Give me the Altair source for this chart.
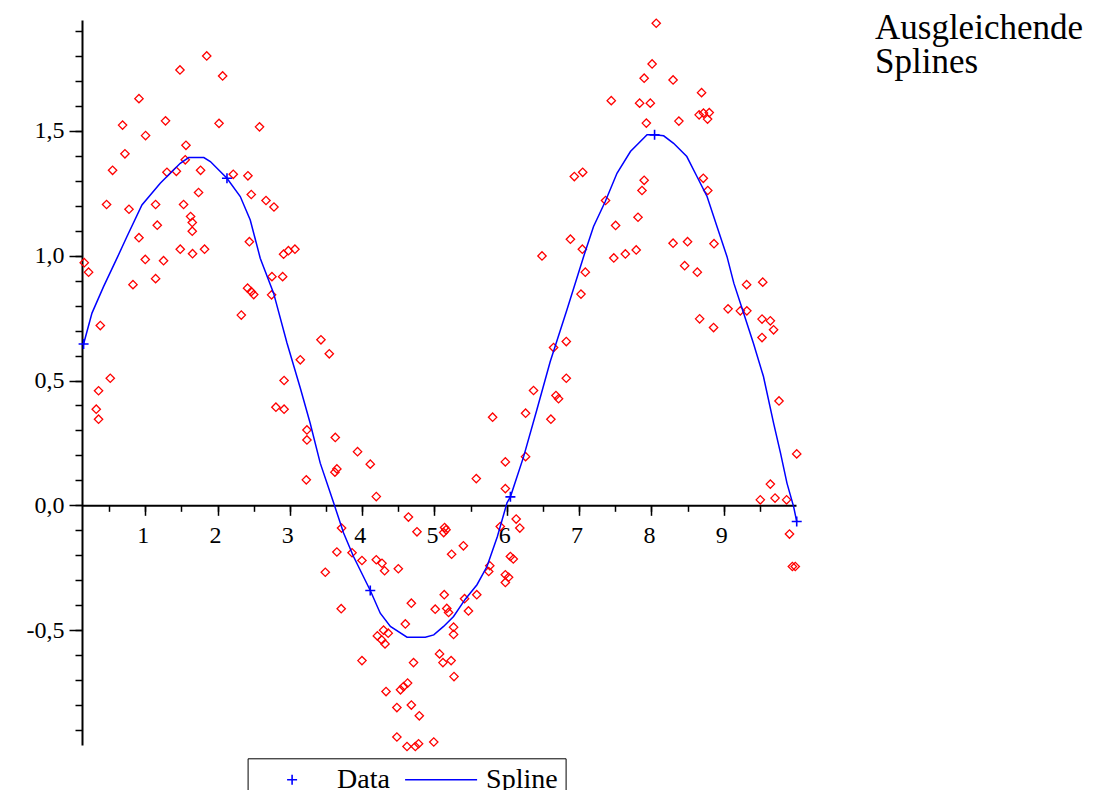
import altair as alt
import pandas as pd

# ---- scattered measurements (red diamonds) ----
scatter_x = [0.156, 0.216, 0.322, 0.354, 0.354, 0.378, 0.465, 0.516, 0.548, 0.686,
             0.719, 0.775, 0.83, 0.913, 0.913, 1.0, 1.004, 1.143, 1.143, 1.166,
             1.253, 1.28, 1.30, 1.43, 1.48, 1.484, 1.53, 1.553, 1.563, 1.627,
             1.65, 1.65, 1.654, 1.737, 1.765, 1.82, 1.85, 2.02, 2.07, 2.217,
             2.328, 2.415, 2.42, 2.44, 2.466, 2.466, 2.50, 2.58, 2.67, 2.747,
             2.752, 2.78, 2.807, 2.90, 2.913, 2.92, 2.92, 2.98, 3.07, 3.144,
             3.227, 3.236, 3.236, 3.43, 3.49, 3.545, 3.623, 3.628, 3.65, 3.65,
             3.71, 3.715, 3.86, 3.936, 3.997, 3.997, 4.112, 4.195, 4.195, 4.21,
             4.27, 4.274, 4.296, 4.31, 4.316, 4.33, 4.36, 4.48, 4.48, 4.50,
             4.53, 4.573, 4.597, 4.62, 4.628, 4.64, 4.68, 4.68, 4.71, 4.735,
             4.758, 4.78, 4.79, 4.99, 5.01, 5.07, 5.117, 5.127, 5.135, 5.14,
             5.16, 5.17, 5.195, 5.23, 5.237, 5.264, 5.264, 5.27, 5.40, 5.416,
             5.47, 5.578, 5.585, 5.75, 5.765, 5.804, 5.91, 5.98, 5.98, 5.98,
             5.98, 6.025, 6.05, 6.09, 6.13, 6.18, 6.26, 6.26, 6.37, 6.487,
             6.61, 6.647, 6.68, 6.716, 6.823, 6.823, 6.88, 6.934, 7.026, 7.045,
             7.05, 7.086, 7.366, 7.445, 7.48, 7.505, 7.64, 7.79, 7.815, 7.837,
             7.87, 7.90, 7.90, 7.93, 7.985, 8.01, 8.067, 8.30, 8.30, 8.38,
             8.46, 8.50, 8.635, 8.66, 8.667, 8.694, 8.718, 8.72, 8.777, 8.78,
             8.80, 8.86, 8.866, 9.06, 9.23, 9.317, 9.32, 9.506, 9.53, 9.53,
             9.54, 9.645, 9.645, 9.69, 9.71, 9.765, 9.87, 9.91, 9.95, 9.99,
             10.01]
scatter_y = [0.972, 0.934, 0.385, 0.459, 0.345, 0.72, 1.205, 0.509, 1.342, 1.523,
             1.408, 1.186, 0.884, 1.629, 1.072, 0.985, 1.481, 1.205, 0.908, 1.122,
             0.98, 1.54, 1.334, 1.338, 1.744, 1.026, 1.205, 1.384, 1.442, 1.157,
             1.133, 1.098, 1.008, 1.253, 1.342, 1.026, 1.80, 1.53, 1.72, 1.326,
             0.762, 0.87, 1.32, 1.056, 1.245, 0.856, 0.844, 1.516, 1.221, 0.843,
             0.916, 1.195, 0.393, 0.916, 1.006, 0.50, 0.385, 1.02, 1.026, 0.583,
             0.102, 0.302, 0.262, 0.663, -0.268, 0.607, 0.133, 0.272, 0.146, -0.187,
             -0.414, -0.091, -0.19, 0.215, -0.221, -0.622, 0.165, 0.035, -0.218, -0.523,
             -0.539, -0.232, -0.50, -0.262, -0.555, -0.746, -0.512, -0.81, -0.928, -0.254,
             -0.739, -0.726, -0.475, -0.966, -0.712, -0.047, -0.392, -0.80, -0.63, -0.966,
             -0.106, -0.955, -0.843, -0.948, -0.416, -0.595, -0.63, -0.109, -0.358, -0.089,
             -0.098, -0.413, -0.429, -0.622, -0.196, -0.488, -0.517, -0.686, -0.162, -0.374,
             -0.423, 0.107, -0.358, -0.265, -0.242, 0.353, -0.085, 0.174, 0.067, -0.278,
             -0.309, -0.288, -0.205, -0.215, -0.055, -0.091, 0.369, 0.195, 0.46, 0.999,
             0.345, 0.632, 0.44, 0.427, 0.656, 0.509, 1.066, 1.317, 0.846, 1.026,
             1.334, 0.934, 1.221, 1.621, 0.991, 1.121, 1.007, 1.023, 1.154, 1.611,
             1.261, 1.302, 1.711, 1.531, 1.611, 1.768, 1.931, 1.704, 1.05, 1.539,
             0.96, 1.056, 0.934, 1.564, 0.747, 1.653, 1.31, 1.571, 1.547, 1.261,
             1.573, 0.712, 1.048, 0.787, 0.779, 0.884, 0.779, 0.022, 0.746, 0.672,
             0.894, 0.739, 0.085, 0.703, 0.029, 0.418, 0.022, -0.115, -0.245, -0.245,
             0.206]

# ---- smoothing spline (blue line) ----
spline_x = [0.147, 0.263, 0.423, 0.609, 0.747, 0.954, 1.207, 1.484, 1.60, 1.81,
            1.90, 2.13, 2.314, 2.452, 2.59, 2.775, 2.96, 3.144, 3.28, 3.42,
            3.605, 3.743, 3.88, 4.112, 4.25, 4.39, 4.62, 4.873, 4.99, 5.126,
            5.264, 5.426, 5.588, 5.726, 5.87, 6.003, 6.05, 6.233, 6.418, 6.60,
            6.832, 7.062, 7.2, 7.362, 7.524, 7.71, 7.94, 8.044, 8.17, 8.307,
            8.49, 8.63, 8.77, 8.907, 9.046, 9.14, 9.275, 9.41, 9.55, 9.69,
            9.786, 9.875, 9.967, 10.01]
spline_y = [0.646, 0.77, 0.876, 0.99, 1.077, 1.203, 1.29, 1.37, 1.393, 1.393,
            1.377, 1.31, 1.237, 1.143, 0.99, 0.85, 0.65, 0.47, 0.33, 0.169,
            0.01, -0.111, -0.205, -0.341, -0.432, -0.485, -0.528, -0.528, -0.519, -0.485,
            -0.445, -0.376, -0.318, -0.245, -0.125, 0.01, 0.034, 0.195, 0.385, 0.575,
            0.783, 0.996, 1.117, 1.217, 1.33, 1.417, 1.484, 1.484, 1.48, 1.45,
            1.397, 1.317, 1.237, 1.117, 0.996, 0.89, 0.77, 0.65, 0.516, 0.329,
            0.209, 0.089, -0.005, -0.065]

# ---- knots ("Data", blue crosses) ----
data_x = [0.147, 2.13, 4.112, 6.05, 8.044, 10.01]
data_y = [0.646, 1.31, -0.341, 0.034, 1.484, -0.065]

series_names = ["Data", "Spline"]
x_major_ticks = [1, 2, 3, 4, 5, 6, 7, 8, 9]
x_minor_ticks = [i / 2 for i in range(1, 20)]
y_major_ticks = [-0.5, 0.0, 0.5, 1.0, 1.5]
y_minor_ticks = [round(i / 10, 1) for i in range(-9, 20)]
title_lines = ["Ausgleichende", "Splines"]

X_DOMAIN = [0.125, 10.0]
Y_DOMAIN = [-0.96, 1.944]
W, H = 714, 725
x_axis_offset = H * (Y_DOMAIN[1] / (Y_DOMAIN[1] - Y_DOMAIN[0])) - H

df_s = pd.DataFrame({"x": scatter_x, "y": scatter_y})
df_sp = pd.DataFrame({"x": spline_x, "y": spline_y})
df_d = pd.DataFrame({"x": data_x, "y": data_y, "series": ["Data"] * len(data_x)})

xs = alt.Scale(domain=X_DOMAIN, nice=False, zero=False)
ys = alt.Scale(domain=Y_DOMAIN, nice=False, zero=False)

label_expr = "replace(replace(format(datum.value, '.1f'), '.', ','), '\u2212', '-')"

x_major = alt.Axis(values=x_major_ticks, orient="bottom", offset=x_axis_offset,
                   tickSize=10, labelPadding=8, labelOffset=-2.5, format="d",
                   labelFlush=False, labelOverlap=False, grid=False, title=None)
x_minor = alt.Axis(values=x_minor_ticks, orient="bottom", offset=x_axis_offset,
                   tickSize=6, labels=False, domain=False, grid=False, title=None)
y_major = alt.Axis(values=y_major_ticks, orient="left", tickSize=13, labelPadding=5,
                   labelExpr=label_expr, labelFlush=False, labelOverlap=False,
                   grid=False, title=None)
y_minor = alt.Axis(values=y_minor_ticks, orient="left", tickSize=7, labels=False,
                   domain=False, grid=False, title=None)

# symbol paths, in units of sqrt(size)/2 = 10 px
plus_path = "M-0.5,0L0.5,0M0,-0.5L0,0.5"
line_path = "M-3.6,0L3.6,0"
SYMBOL_SIZE = 400

legend = alt.Legend(orient="none", legendX=165.6, legendY=738.3, direction="horizontal",
                    title=None, strokeColor="black", fillColor="white", padding=7.5,
                    labelFont="Liberation Serif", labelFontSize=28, labelColor="black",
                    labelOffset=31, symbolOffset=23, columnPadding=11,
                    symbolSize=SYMBOL_SIZE, symbolStrokeWidth=1.6,
                    symbolFillColor="transparent")

scatter = alt.Chart(df_s).mark_point(
    shape="diamond", filled=False, color="#ff0000", size=70, strokeWidth=1.3, opacity=1
).encode(
    x=alt.X("x:Q", scale=xs, axis=x_major),
    y=alt.Y("y:Q", scale=ys, axis=y_major),
)

spline = alt.Chart(df_sp).mark_line(color="#0000ff", strokeWidth=1.5).encode(
    x=alt.X("x:Q", scale=xs, axis=x_minor),
    y=alt.Y("y:Q", scale=ys, axis=y_minor),
)

knots = alt.Chart(df_d).mark_point(filled=False, size=SYMBOL_SIZE, strokeWidth=1.6, opacity=1).encode(
    x=alt.X("x:Q", scale=xs, axis=None),
    y=alt.Y("y:Q", scale=ys, axis=None),
    color=alt.Color("series:N", scale=alt.Scale(domain=series_names, range=["#0000ff", "#0000ff"]),
                    legend=legend),
    shape=alt.Shape("series:N", scale=alt.Scale(domain=series_names, range=[plus_path, line_path]),
                    legend=legend),
)

chart = alt.layer(scatter, spline, knots).resolve_axis(
    x="independent", y="independent"
).properties(
    width=W, height=H,
    padding={"left": 74, "top": 12, "right": 297, "bottom": 45},
    autosize=alt.AutoSizeParams(type="none"),
    background="white",
    title=alt.TitleParams(text=title_lines, orient="top", anchor="start", frame="group",
                          dx=793, dy=64, offset=0, baseline="top", font="Liberation Serif",
                          fontSize=35, fontWeight="normal", lineHeight=34, color="black"),
).configure_view(stroke=None).configure_axis(
    labelFont="Liberation Serif", labelFontSize=24, labelColor="black",
    tickColor="black", domainColor="black", domainWidth=2, tickWidth=1.5,
)

chart.save("out.html", embed_options={"renderer": "svg", "actions": False})
